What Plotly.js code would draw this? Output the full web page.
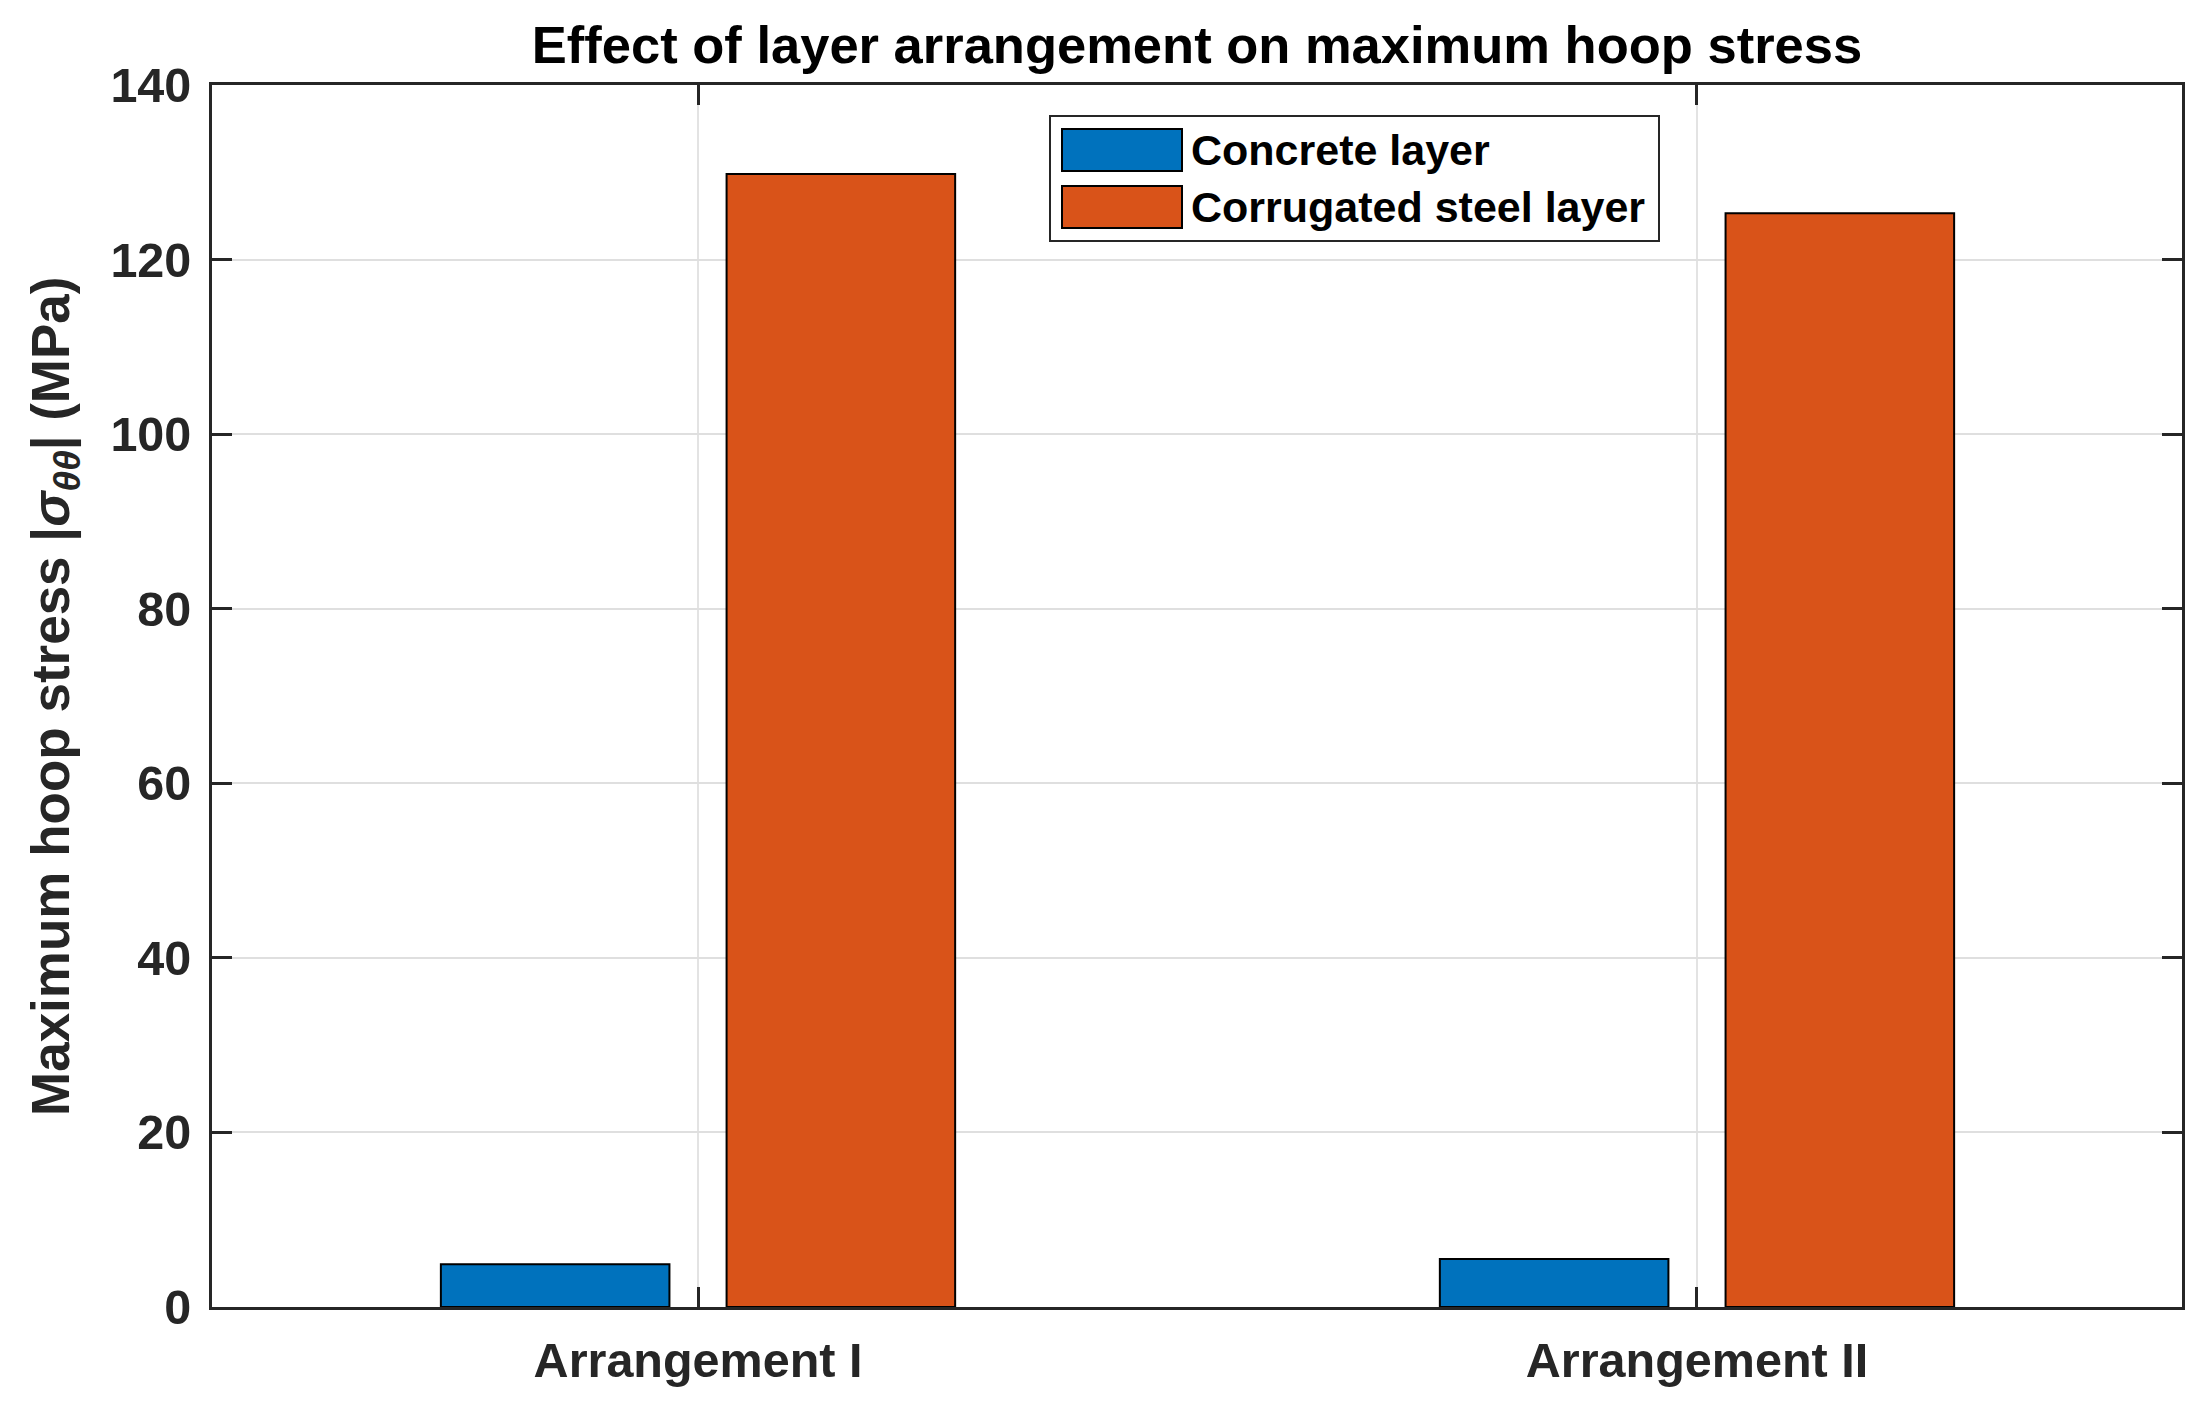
<!DOCTYPE html>
<html>
<head>
<meta charset="utf-8">
<script src="https://cdn.plot.ly/plotly-3.0.1.min.js"></script>
<style>
    html, body { margin: 0; padding: 0; background: #ffffff; }
    #plot { width: 2209px; height: 1408px; }
</style>
</head>
<body>
<div id="plot"></div>
<script>
// data
const categories = ["Arrangement I", "Arrangement II"];
const series_names = ["Concrete layer", "Corrugated steel layer"];
const concrete_values = [4.9, 5.5];
const steel_values = [129.8, 125.3];
const series_colors = ["#0072BD", "#D95319"];
const y_ticks = [0, 20, 40, 60, 80, 100, 120, 140];

const W = 2209, H = 1408;
const plot_box = {left: 212, right: 2182, top: 85, bottom: 1307};

// pixel -> paper helpers for the hand-built legend
function px(x) { return (x - plot_box.left) / (plot_box.right - plot_box.left); }
function py(y) { return (plot_box.bottom - y) / (plot_box.bottom - plot_box.top); }

const font_family = "Liberation Sans, Arial, Helvetica, sans-serif";
const axis_color = "#262626";

let traces = [concrete_values, steel_values].map((values, i) => ({
    type: "bar",
    x: categories,
    y: values,
    name: series_names[i],
    marker: {color: series_colors[i], line: {color: "#000000", width: 2}},
    showlegend: false,
    hoverinfo: "skip",
}));

// legend drawn as shapes so the swatches get MATLAB's wide boxes
let legend_box = {x0: 1050, x1: 1659, y0: 116, y1: 241};
let swatch = {x0: 1062, x1: 1182, h: 42, rows: [150, 207], text_x: 1189};

let shapes = [{
    type: "rect", xref: "paper", yref: "paper",
    x0: px(legend_box.x0), x1: px(legend_box.x1),
    y0: py(legend_box.y1), y1: py(legend_box.y0),
    line: {color: axis_color, width: 2}, fillcolor: "#ffffff", layer: "above",
}];
let annotations = [];
swatch.rows.forEach((row_y, i) => {
    shapes.push({
        type: "rect", xref: "paper", yref: "paper",
        x0: px(swatch.x0), x1: px(swatch.x1),
        y0: py(row_y + swatch.h / 2), y1: py(row_y - swatch.h / 2),
        line: {color: "#000000", width: 2}, fillcolor: series_colors[i], layer: "above",
    });
    annotations.push({
        xref: "paper", yref: "paper",
        x: px(swatch.text_x), y: py(row_y),
        xanchor: "left", yanchor: "middle",
        text: "<b>" + series_names[i] + "</b>",
        showarrow: false,
        font: {family: font_family, size: 43, color: "#000000"},
    });
});

// y axis label with subscript
annotations.push({
    xref: "paper", yref: "paper",
    x: px(54), y: 0.5,
    xanchor: "center", yanchor: "middle",
    textangle: -90,
    text: "<b>Maximum hoop stress |<i>σ</i><sub><i>θθ</i></sub>| (MPa)</b>",
    showarrow: false,
    font: {family: font_family, size: 53, color: axis_color},
});

let layout = {
    width: W,
    height: H,
    margin: {l: plot_box.left, r: W - plot_box.right, t: plot_box.top, b: H - plot_box.bottom, pad: 0},
    paper_bgcolor: "#ffffff",
    plot_bgcolor: "#ffffff",
    barmode: "group",
    bargap: 0.428,
    bargroupgap: 0.2,
    showlegend: false,
    font: {family: font_family, color: axis_color},
    title: {
        text: "<b>Effect of layer arrangement on maximum hoop stress</b>",
        x: 0.5, xref: "paper",
        y: 1 - 45 / H, yref: "container", yanchor: "middle",
        font: {family: font_family, size: 52.5, color: "#000000"},
    },
    xaxis: {
        type: "category",
        range: [-0.4865, 1.4855],
        showline: true, linecolor: axis_color, linewidth: 3,
        mirror: "ticks",
        ticks: "inside", ticklen: 20, tickwidth: 3, tickcolor: axis_color,
        showgrid: true, gridcolor: "#e3e3e3", gridwidth: 2,
        tickfont: {family: font_family, size: 48.5, color: axis_color, weight: "bold"},
        ticklabelstandoff: 9,
        zeroline: false,
        fixedrange: true,
    },
    yaxis: {
        range: [0, 140],
        tickvals: y_ticks,
        ticktext: y_ticks.map(String),
        showline: true, linecolor: axis_color, linewidth: 3,
        mirror: "ticks",
        ticks: "inside", ticklen: 20, tickwidth: 3, tickcolor: axis_color,
        showgrid: true, gridcolor: "#dfdfdf", gridwidth: 2,
        tickfont: {family: font_family, size: 48.5, color: axis_color, weight: "bold"},
        ticklabelstandoff: 8,
        zeroline: false,
        fixedrange: true,
    },
    shapes: shapes,
    annotations: annotations,
};

Plotly.newPlot("plot", traces, layout, {staticPlot: true, displayModeBar: false});
</script>
</body>
</html>
